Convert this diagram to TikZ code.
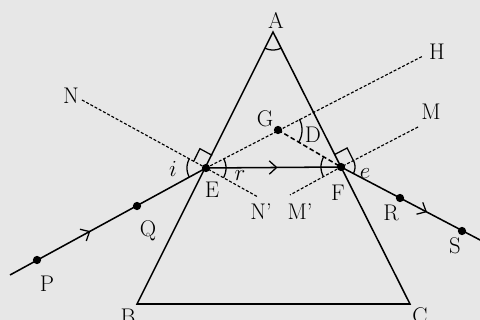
\documentclass[tikz,border=0pt]{standalone}
\usetikzlibrary{calc,arrows.meta,decorations.markings}
\definecolor{bg}{RGB}{231,231,231}
\begin{document}
\begin{tikzpicture}[x=0.75pt,y=-0.75pt,
  prism/.style={line width=1.15pt},
  ray/.style={line width=1.15pt},
  normalline/.style={line width=0.85pt, dash pattern=on 2.2pt off 1.4pt},
  gfline/.style={line width=1.15pt, dash pattern=on 3.5pt off 2pt},
  dot/.style={circle, fill, inner sep=0pt, minimum size=6.2pt},
  lbl/.style={inner sep=0pt, font=\fontsize{17}{20}\selectfont},
  ang/.style={line width=0.95pt},
  midarrow/.style={postaction={decorate, decoration={markings,
     mark=at position #1 with {\arrow{Straight Barb[length=5.5pt,width=10pt,line width=0.95pt]}}}}}
]
\fill[bg] (0,0) rectangle (480,320);
\useasboundingbox (0,0) rectangle (480,320);
% points
\coordinate (A) at (273,32);
\coordinate (B) at (137,304);
\coordinate (C) at (410,304);
\coordinate (E) at (206,168);
\coordinate (F) at (341,167);
\coordinate (G) at (278,130);
\coordinate (H) at (423,56);
\coordinate (N) at (82,100);
\coordinate (Np) at (258,197);
\coordinate (M) at (418,127);
\coordinate (Mp) at (290,195);
\coordinate (P) at (37,260);
\coordinate (Q) at (137,206);
\coordinate (R) at (400,198);
\coordinate (S) at (462,231);
\coordinate (Start) at (10,275);
\coordinate (End) at (482,241);
% prism
\draw[prism, line join=miter] (A) -- (B) -- (C) -- cycle;
% normals and extensions
\draw[normalline] (N) -- (E) -- (Np);
\draw[normalline] (M) -- (F) -- (Mp);
\draw[normalline] (E) -- (H);
\draw[gfline] (G) -- (F);
% rays
\draw[ray, midarrow=0.41] (Start) -- (E);
\draw[ray, midarrow=0.53] (E) -- (F);
\draw[ray, midarrow=0.61] (F) -- (End);
% right angle markers
\draw[ang] (E) ++(-12.3,-6.7) -- ++(6.2,-12.6) -- ++(12.3,6.7);
\draw[ang] (F) ++(12.4,-6.5) -- ++(-6.3,-12.5) -- ++(-12.4,6.5);
% angle arcs
\draw[ang, shift={(A)}] plot[domain=63.3:116.6, samples=25, smooth] (\x:18);
\draw[ang, shift={(E)}] plot[domain=151.4:208.7, samples=25, smooth] (\x:19);
\draw[ang, shift={(E)}] plot[domain=-27.3:29.1, samples=25, smooth] (\x:20);
\draw[ang, shift={(F)}] plot[domain=151.2:210.4, samples=25, smooth] (\x:20);
\draw[ang, shift={(F)}] plot[domain=-27.5:27.9, samples=25, smooth] (\x:14);
\draw[ang, shift={(G)}] plot[domain=-27:30.4, samples=25, smooth] (\x:24);
% dots
\foreach \p in {E,F,G,P,Q,R,S} \node[dot] (d\p) at (\p) {};
% labels
\node[lbl] (lA) at (276,20) {A};
\node[lbl] (lB) at (128,317) {B};
\node[lbl] (lC) at (420,316) {C};
\node[lbl] (lN) at (71,96) {N};
\node[lbl] (lH) at (437,52) {H};
\node[lbl] (lM) at (431,112) {M};
\node[lbl] (lG) at (265,119) {G};
\node[lbl] (lD) at (313,135) {D};
\node[lbl] (li) at (173,169) {$i$};
\node[lbl] (lr) at (240,176) {$r$};
\node[lbl] (le) at (365,174) {$e$};
\node[lbl] (lE) at (212,190) {E};
\node[lbl] (lF) at (338,193) {F};
\node[lbl] (lNp) at (261,212) {N'};
\node[lbl] (lMp) at (300,212) {M'};
\node[lbl] (lQ) at (148,231) {Q};
\node[lbl] (lP) at (47,284) {P};
\node[lbl] (lR) at (391,213) {R};
\node[lbl] (lS) at (455,246) {S};
\node[lbl, anchor=east] (lpar) at (2.5,28) {)};
\end{tikzpicture}
\end{document}
